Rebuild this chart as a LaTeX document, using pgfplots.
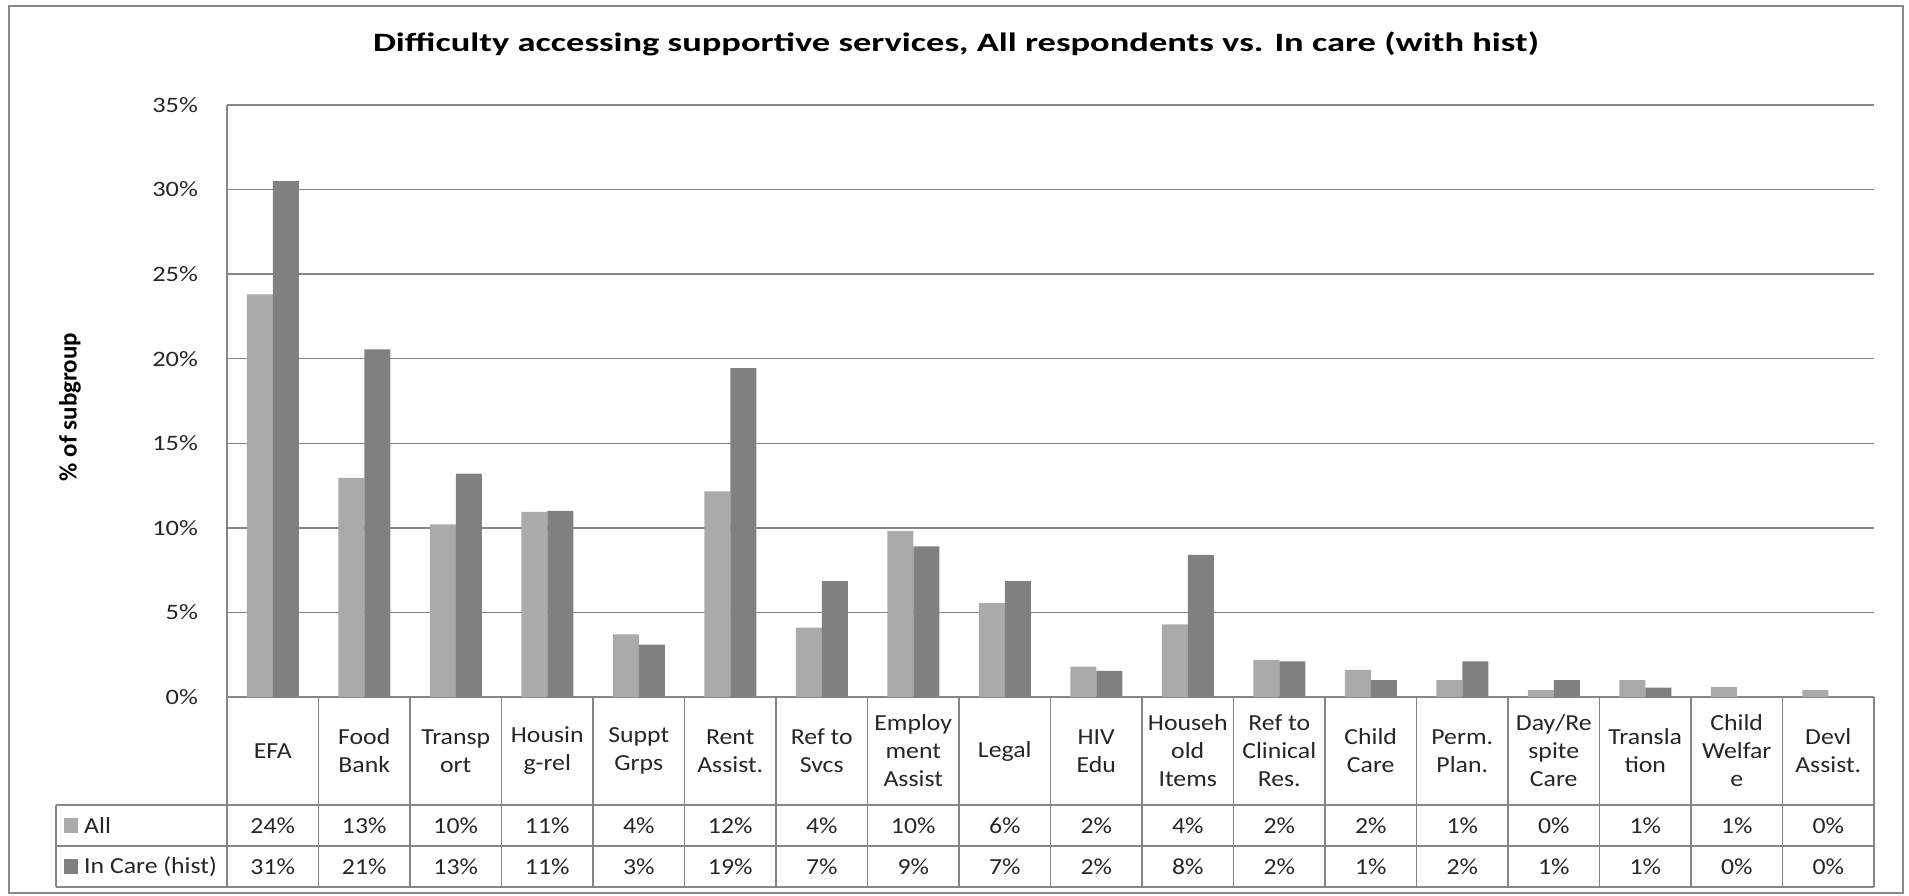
\documentclass[border=0pt]{standalone}
\usepackage{fontspec}
\setmainfont{Carlito}
\usepackage{pgfplots}
\pgfplotsset{compat=1.18}
\definecolor{allc}{RGB}{170,170,170}
\definecolor{carec}{RGB}{128,128,128}
\definecolor{gridc}{RGB}{134,134,134}
\definecolor{framec}{RGB}{136,136,136}
\newcommand{\tabfont}{\fontsize{23}{28}\selectfont}
\begin{document}
\begin{tikzpicture}[x=1pt,y=1pt]
\path[use as bounding box] (0,0) rectangle (1909,895);
\draw[framec, line width=2.5pt] (9,889) rectangle (1903,2);
\node[anchor=base, font=\bfseries\fontsize{26.5}{30}\selectfont, xscale=1.377] at (956,843.5)
  {Difficulty accessing supportive services, All respondents vs. In care (with hist)};
\node[rotate=90, font=\bfseries\fontsize{25}{29}\selectfont] at (70,488) {\% of subgroup};
\begin{axis}[
  at={(227pt,198pt)}, anchor=south west, scale only axis,
  width=1647pt, height=592pt,
  xmin=-0.5, xmax=17.5, ymin=0, ymax=35,
  xtick={0,...,17},
  xticklabels={EFA,{Food\\Bank},{Transp\\ort},{Housin\\g-rel},{Suppt\\Grps},{Rent\\Assist.},{Ref to\\Svcs},{Employ\\ment\\Assist},Legal,{HIV\\Edu},{Househ\\old\\Items},{Ref to\\Clinical\\Res.},{Child\\Care},{Perm.\\Plan.},{Day/Re\\spite\\Care},{Transla\\tion},{Child\\Welfar\\e},{Devl\\Assist.}},
  x tick label style={font=\tabfont, align=center, anchor=center, yshift=-54pt, xscale=1.12, text=black!85},
  ytick={0,5,...,35},
  yticklabel={\pgfmathprintnumber{\tick}\%},
  y tick label style={font=\fontsize{22}{26}\selectfont, xscale=1.2, anchor=east, inner sep=0pt, xshift=-24pt, text=black!85},
  /pgf/number format/assume math mode=true,
  ymajorgrids, grid style={gridc, line width=1.3pt},
  axis line style={draw=none},
  tick style={draw=none},
  clip=false,
]
\addplot[ybar, bar width=26pt, bar shift=-13pt, fill=allc, draw=none] coordinates {
 (0,23.8) (1,12.95) (2,10.2) (3,10.95) (4,3.7) (5,12.15) (6,4.1) (7,9.8) (8,5.55)
 (9,1.8) (10,4.3) (11,2.2) (12,1.6) (13,1.0) (14,0.4) (15,1.0) (16,0.6) (17,0.4)};
\addplot[ybar, bar width=26pt, bar shift=13pt, fill=carec, draw=none] coordinates {
 (0,30.5) (1,20.55) (2,13.2) (3,11.0) (4,3.1) (5,19.45) (6,6.85) (7,8.9) (8,6.85)
 (9,1.55) (10,8.4) (11,2.1) (12,1.0) (13,2.1) (14,1.0) (15,0.55) (16,0) (17,0)};
\end{axis}
% data table grid
\draw[gridc, line width=1.3pt] (56,90) -- (1874,90);
\draw[gridc, line width=1.3pt] (56,49) -- (1874,49);
\draw[gridc, line width=1.3pt] (56,8) -- (1874,8);
\draw[gridc, line width=1.3pt] (56,90) -- (56,8);
\draw[gridc, line width=1.3pt] (227,790) -- (227,8);
\foreach \k in {1,...,18} {\draw[gridc, line width=1.3pt] ({227+91.5*\k},198) -- ({227+91.5*\k},8);}
% legend keys
\fill[allc] (64,62) rectangle (78,77);
\fill[carec] (64,21) rectangle (78,36);
\node[anchor=west, font=\tabfont, xscale=1.12, text=black!85, inner sep=0pt] at (84,69.5) {All};
\node[anchor=west, font=\tabfont, xscale=1.12, text=black!85, inner sep=0pt] at (84,28.5) {In Care (hist)};
% table values
\foreach \v [count=\i from 0] in {24,13,10,11,4,12,4,10,6,2,4,2,2,1,0,1,1,0}
  {\node[font=\tabfont, xscale=1.12, text=black!85] at ({227+91.5*(\i+0.5)},69.5) {\v\%};}
\foreach \v [count=\i from 0] in {31,21,13,11,3,19,7,9,7,2,8,2,1,2,1,1,0,0}
  {\node[font=\tabfont, xscale=1.12, text=black!85] at ({227+91.5*(\i+0.5)},28.5) {\v\%};}
\end{tikzpicture}
\end{document}
